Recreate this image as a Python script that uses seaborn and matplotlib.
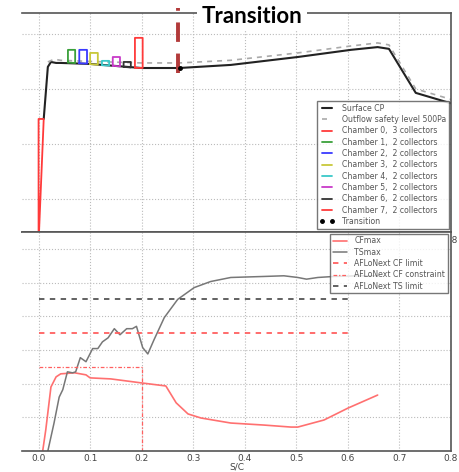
import numpy as np
import pandas as pd
import matplotlib
matplotlib.use('Agg')
import matplotlib.pyplot as plt
import seaborn as sns

# --- top panel: surface Cp and chambers ---
cp_x = [0.010, 0.018, 0.024, 0.034, 0.043, 0.10, 0.20, 0.273, 0.373, 0.503, 0.606, 0.658, 0.68, 0.732, 0.804]
cp_y = [0.227, 0.70, 0.745, 0.736, 0.736, 0.727, 0.69, 0.69, 0.718, 0.79, 0.855, 0.88, 0.864, 0.464, 0.364]
safe_x = [0.018, 0.030, 0.043, 0.10, 0.20, 0.273, 0.373, 0.503, 0.606, 0.658, 0.68, 0.732, 0.804]
safe_y = [0.745, 0.77, 0.76, 0.75, 0.736, 0.736, 0.76, 0.827, 0.89, 0.918, 0.90, 0.50, 0.40]

ch_labels = ['Chamber 0,  3 collectors', 'Chamber 1,  2 collectors', 'Chamber 2,  2 collectors',
             'Chamber 3,  2 collectors', 'Chamber 4,  2 collectors', 'Chamber 5,  2 collectors',
             'Chamber 6,  2 collectors', 'Chamber 7,  2 collectors']
ch_x0 = [0.000, 0.057, 0.079, 0.100, 0.123, 0.144, 0.165, 0.187]
ch_x1 = [0.010, 0.071, 0.094, 0.115, 0.137, 0.158, 0.179, 0.202]
ch_top = [0.227, 0.855, 0.855, 0.827, 0.755, 0.79, 0.745, 0.964]
ch_cp0 = [-0.9, 0.740, 0.733, 0.725, 0.715, 0.710, 0.700, 0.692]
ch_cp1 = [0.227, 0.735, 0.730, 0.720, 0.712, 0.705, 0.695, 0.690]

trans_x = 0.271
trans_cp = 0.69

# --- bottom panel: CF / TS ---
cf_x = [0.008, 0.014, 0.024, 0.034, 0.043, 0.07, 0.092, 0.10, 0.14, 0.20, 0.247, 0.267, 0.29,
        0.315, 0.373, 0.437, 0.49, 0.503, 0.554, 0.60, 0.658]
cf_y = [0.0, 0.63, 1.9, 2.2, 2.29, 2.32, 2.26, 2.17, 2.14, 2.02, 1.93, 1.43, 1.1,
        0.98, 0.83, 0.77, 0.71, 0.71, 0.92, 1.27, 1.66]
ts_x = [0.018, 0.030, 0.040, 0.047, 0.056, 0.066, 0.072, 0.081, 0.092, 0.105, 0.115, 0.124, 0.135,
        0.147, 0.158, 0.171, 0.182, 0.190, 0.202, 0.212, 0.224, 0.244, 0.27, 0.302, 0.334, 0.373,
        0.437, 0.476, 0.503, 0.52, 0.542, 0.573, 0.62, 0.66]
ts_y = [0.0, 0.83, 1.6, 1.82, 2.35, 2.32, 2.35, 2.77, 2.65, 3.04, 3.04, 3.24, 3.36,
        3.63, 3.45, 3.63, 3.63, 3.70, 3.07, 2.88, 3.3, 3.96, 4.5, 4.85, 5.03, 5.15,
        5.18, 5.2, 5.15, 5.1, 5.15, 5.18, 5.2, 5.2]
cf_limit = 3.5
ts_limit = 4.5
cf_constraint = 2.5
cf_constraint_x = 0.2
limit_x = [0.0, 0.6]
xticks = [0.0, 0.1, 0.2, 0.3, 0.4, 0.5, 0.6, 0.7, 0.8]

sns.set_style('white')
plt.rcParams['font.family'] = ['DejaVu Sans']
plt.rcParams['xtick.direction'] = 'in'
plt.rcParams['ytick.direction'] = 'in'

fig = plt.figure(figsize=(4.6, 4.72), dpi=100)
ax1 = fig.add_axes([0.048, 0.5085, 0.932, 0.464])
ax2 = fig.add_axes([0.048, 0.0445, 0.932, 0.464])

ch_colors = ['#ff3a3a', '#3aa03a', '#3a3aff', '#c8c83a', '#3ac8c8', '#c83ac8', '#333333', '#ff3a3a']

sns.lineplot(x=cp_x, y=cp_y, ax=ax1, color='#222222', lw=1.5, sort=False, estimator=None, label='Surface CP')
sns.lineplot(x=safe_x, y=safe_y, ax=ax1, color='#aaaaaa', lw=1.2, sort=False, estimator=None,
             label='Outflow safety level 500Pa')
ax1.lines[-1].set_dashes([3, 3])
for i in range(len(ch_labels)):
    px = [ch_x0[i], ch_x0[i], ch_x1[i], ch_x1[i], ch_x0[i]]
    py = [ch_cp0[i], ch_top[i], ch_top[i], ch_cp1[i], ch_cp0[i]]
    ax1.plot(px, py, color=ch_colors[i], lw=1.3, label=ch_labels[i])
ax1.plot([trans_x, trans_x], [0.645, 1.236], color='#b23a3a', lw=2.8, dashes=[5, 3], clip_on=False, zorder=5)
ax1.plot([trans_x + 0.003], [trans_cp], 'o', color='k', ms=2.5, zorder=6, label='Transition')

ax1.set_xlim(-0.032, 0.8)
ax1.set_ylim(-0.8, 1.19)
ax1.set_xticks(xticks)
# only the last label peeks out from under the lower panel
ax1.set_xticklabels([''] * (len(xticks) - 1) + ['%.1f' % xticks[-1]])
ax1.set_yticks([-0.5, 0.0, 0.5, 1.0])
ax1.set_yticklabels([])
ax1.tick_params(labelsize=6.5, colors='#444444', length=3, pad=3)
ax1.grid(True, color='#bbbbbb', ls=':', lw=0.8)
ax1.spines['left'].set_visible(False)
for s in ['top', 'right', 'bottom']:
    ax1.spines[s].set_color('#555555')
    ax1.spines[s].set_linewidth(1.2)
leg1 = ax1.legend(loc='lower right', bbox_to_anchor=(0.999, 0.008), fontsize=5.6, numpoints=2,
                  frameon=True, fancybox=False, labelspacing=0.3, handlelength=1.8,
                  borderpad=0.35, handletextpad=1.0, borderaxespad=0.2)
leg1.get_frame().set_edgecolor('#555555')
leg1.get_frame().set_linewidth(1.0)
for t in leg1.get_texts():
    t.set_color('#555555')

# bottom panel
sns.lineplot(x=cf_x, y=cf_y, ax=ax2, color='#ff7070', lw=1.2, sort=False, estimator=None, label='CFmax')
sns.lineplot(x=ts_x, y=ts_y, ax=ax2, color='#777777', lw=1.1, sort=False, estimator=None, label='TSmax')
ax2.plot(limit_x, [cf_limit, cf_limit], color='#ff6060', lw=1.3, dashes=[3, 3], label='AFLoNext CF limit')
ax2.plot([0.0, cf_constraint_x, cf_constraint_x], [cf_constraint, cf_constraint, 0.0], color='#ff6060',
         lw=0.9, dashes=[3, 1.5, 1, 1.5], label='AFLoNext CF constraint')
ax2.plot(limit_x, [ts_limit, ts_limit], color='#555555', lw=1.3, dashes=[3, 3], label='AFLoNext TS limit')

ax2.set_xlim(-0.032, 0.8)
ax2.set_ylim(0, 6.5)
ax2.set_xticks(xticks)
ax2.set_xticklabels(['%.1f' % v for v in xticks])
ax2.set_yticks(range(1, 7))
ax2.set_yticklabels([])
ax2.tick_params(labelsize=6.5, colors='#444444', length=3, pad=2)
ax2.set_xlabel('S/C', fontsize=6.5, color='#444444', labelpad=0)
ax2.grid(True, color='#bbbbbb', ls=':', lw=0.8)
ax2.spines['left'].set_visible(False)
for s in ['top', 'right', 'bottom']:
    ax2.spines[s].set_color('#555555')
    ax2.spines[s].set_linewidth(1.2)
ax2.set_facecolor('white')
leg2 = ax2.legend(loc='upper right', bbox_to_anchor=(0.997, 1.0), fontsize=5.6, frameon=True,
                  fancybox=False, labelspacing=0.3, handlelength=1.8, borderpad=0.35,
                  handletextpad=1.0, borderaxespad=0.2)
leg2.get_frame().set_edgecolor('#555555')
leg2.get_frame().set_linewidth(1.0)
for t in leg2.get_texts():
    t.set_color('#555555')

fig.text(0.548, 0.965, 'Transition', fontsize=16, fontweight='bold', family=['Lato', 'DejaVu Sans'],
         ha='center', va='center', color='black',
         bbox=dict(facecolor='white', edgecolor='none', pad=3))

fig.savefig('out.png', dpi=100)
